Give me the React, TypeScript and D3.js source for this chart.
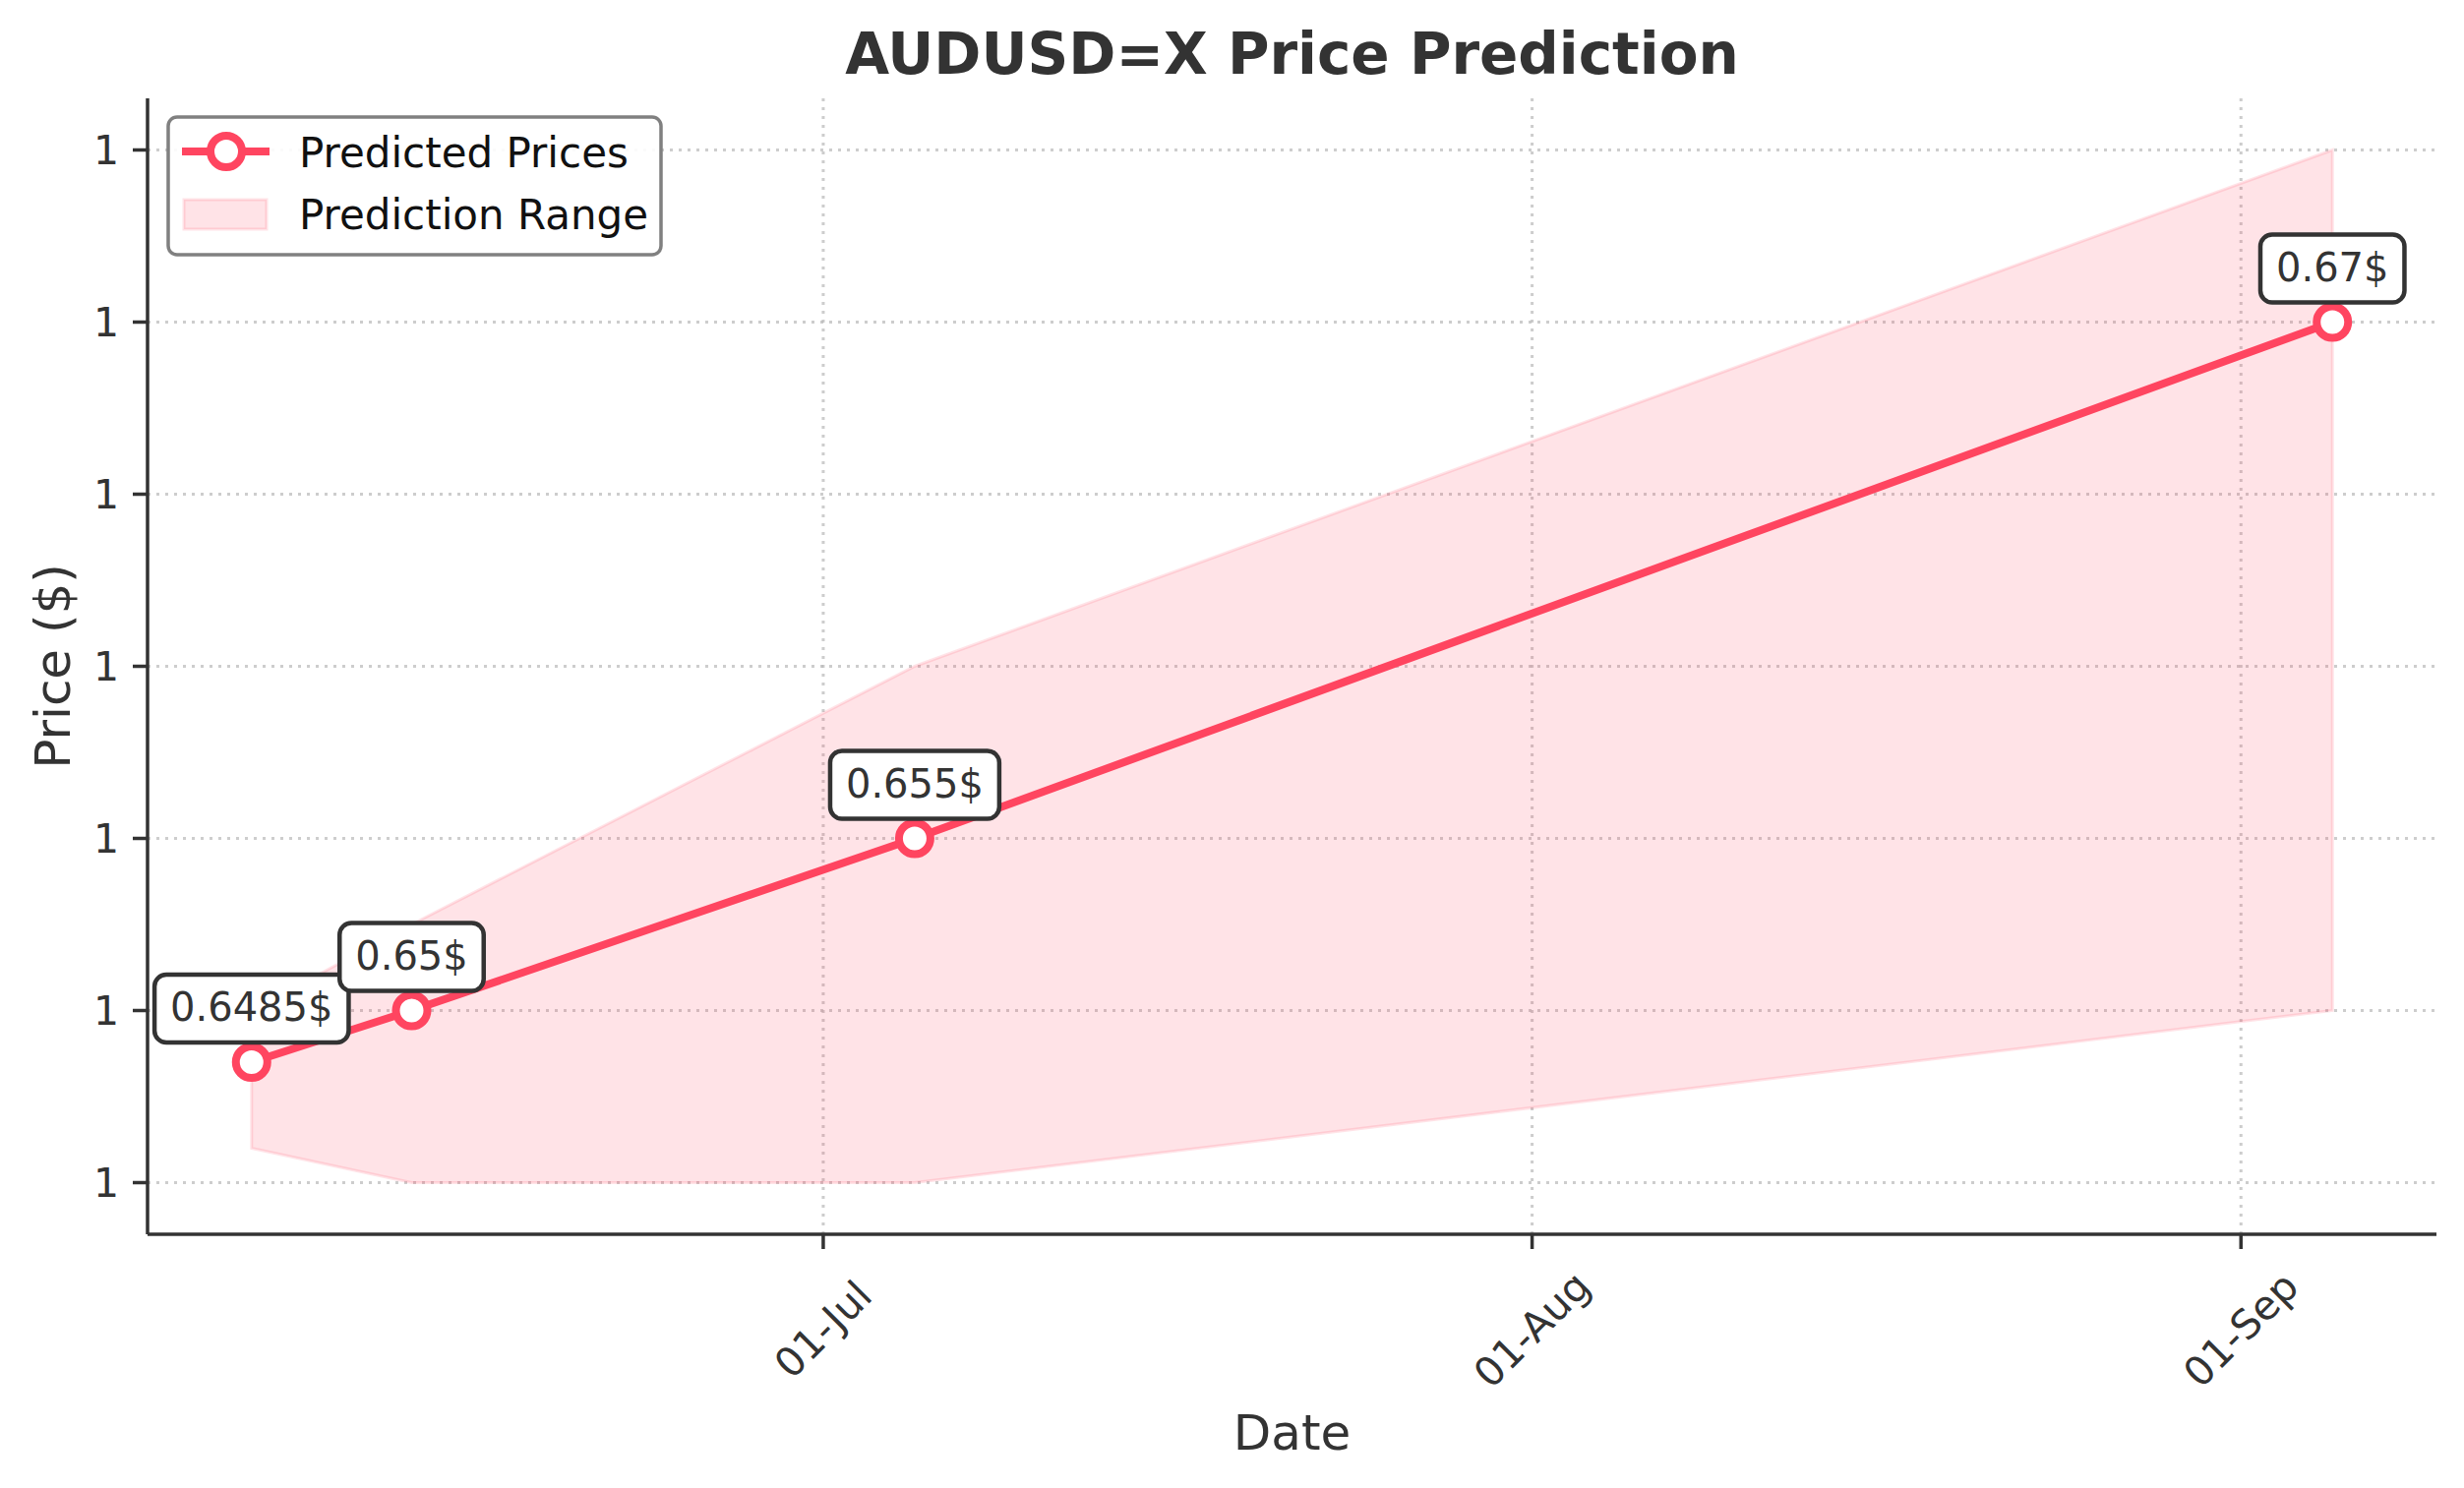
import React from "react";
import * as d3 from "d3";

const dateStrings = ["2024-06-06", "2024-06-13", "2024-07-05", "2024-09-05"];
const predicted = [0.6485, 0.65, 0.655, 0.67];
const lowerBound = [0.646, 0.645, 0.645, 0.65];
const upperBound = [0.65, 0.6525, 0.66, 0.675];
const labels = ["0.6485$", "0.65$", "0.655$", "0.67$"];
const yTicks = [0.645, 0.65, 0.655, 0.66, 0.665, 0.67, 0.675];
const xTickDates = ["2024-07-01", "2024-08-01", "2024-09-01"];

const W = 2505;
const H = 1513;
const M = { left: 150, right: 2477, top: 100, bottom: 1255 };
const RED = "#FF4560";
const FONT = "'DejaVu Sans', Verdana, sans-serif";

const parse = d3.timeParse("%Y-%m-%d");

function textWidth(s: string, fs: number) {
  let w = 0;
  for (const c of s) {
    if (c === ".") w += 0.318;
    else w += 0.636;
  }
  return w * fs;
}

export default function App() {
  const dates = dateStrings.map((d) => parse(d) as Date);
  const [d0, d1] = d3.extent(dates) as [Date, Date];
  const span = d1.getTime() - d0.getTime();
  const x = d3
    .scaleTime()
    .domain([new Date(d0.getTime() - span * 0.05), new Date(d1.getTime() + span * 0.05)])
    .range([M.left, M.right]);
  const yMin = d3.min(lowerBound) as number;
  const yMax = d3.max(upperBound) as number;
  const yPad = (yMax - yMin) * 0.05;
  const y = d3.scaleLinear().domain([yMin - yPad, yMax + yPad]).range([M.bottom, M.top]);

  const rows = dates.map((d, i) => ({ d, p: predicted[i], lo: lowerBound[i], hi: upperBound[i], label: labels[i] }));
  const area = d3
    .area<any>()
    .x((r) => x(r.d))
    .y0((r) => y(r.lo))
    .y1((r) => y(r.hi));
  const line = d3
    .line<any>()
    .x((r) => x(r.d))
    .y((r) => y(r.p));

  const yFmt = d3.format(".0f");
  const xFmt = d3.timeFormat("%d-%b");
  const xTicks = xTickDates.map((s) => parse(s) as Date);

  const gridStyle = { stroke: "#b8b8b8", strokeWidth: 3, strokeDasharray: "3 6", opacity: 0.7 };

  return (
    <svg
      width={W}
      height={H}
      viewBox={`0 0 ${W} ${H}`}
      style={{ position: "absolute", left: 0, top: 0, background: "#fff" }}
      fontFamily={FONT}
    >
      <rect x={0} y={0} width={W} height={H} fill="#fff" />
      {/* grid */}
      {yTicks.map((t) => (
        <line key={"gy" + t} x1={M.left} x2={M.right} y1={y(t)} y2={y(t)} {...gridStyle} />
      ))}
      {xTicks.map((t, i) => (
        <line key={"gx" + i} x1={x(t)} x2={x(t)} y1={M.top} y2={M.bottom} {...gridStyle} />
      ))}
      {/* band */}
      <path d={area(rows) as string} fill={RED} fillOpacity={0.15} stroke={RED} strokeOpacity={0.15} strokeWidth={3} />
      {/* line */}
      <path d={line(rows) as string} fill="none" stroke={RED} strokeWidth={8} strokeLinejoin="round" />
      {rows.map((r, i) => (
        <circle key={"m" + i} cx={x(r.d)} cy={y(r.p)} r={16} fill="#fff" stroke={RED} strokeWidth={8} />
      ))}
      {/* annotations */}
      {rows.map((r, i) => {
        const cx = x(r.d);
        const cy = y(r.p);
        const tw = textWidth(r.label, 40);
        const bw = tw + 32;
        const bh = 69;
        return (
          <g key={"a" + i}>
            <rect x={cx - bw / 2} y={cy - 20 - bh} width={bw} height={bh} rx={12} ry={12} fill="#fff" stroke="#333" strokeWidth={4.5} />
            <text x={cx} y={cy - 42} textAnchor="middle" fontSize={40} fill="#333">
              {r.label}
            </text>
          </g>
        );
      })}
      {/* spines */}
      <line x1={M.left} x2={M.left} y1={M.top} y2={M.bottom} stroke="#333" strokeWidth={3.5} />
      <line x1={M.left} x2={M.right} y1={M.bottom} y2={M.bottom} stroke="#333" strokeWidth={3.5} />
      {/* y ticks */}
      {yTicks.map((t) => (
        <g key={"ty" + t}>
          <line x1={M.left - 15} x2={M.left} y1={y(t)} y2={y(t)} stroke="#333" strokeWidth={3.5} />
          <text x={121} y={y(t)} dy="0.36em" textAnchor="end" fontSize={41} fill="#333">
            {yFmt(t)}
          </text>
        </g>
      ))}
      {/* x ticks */}
      {xTicks.map((t, i) => (
        <g key={"tx" + i}>
          <line x1={x(t)} x2={x(t)} y1={M.bottom} y2={M.bottom + 15} stroke="#333" strokeWidth={3.5} />
          <text
            x={0}
            y={0}
            textAnchor="middle"
            dominantBaseline="central"
            fontSize={41}
            fill="#333"
            transform={`translate(${x(t)},${1352}) rotate(-45)`}
          >
            {xFmt(t)}
          </text>
        </g>
      ))}
      {/* axis labels */}
      <text x={(M.left + M.right) / 2} y={1474} textAnchor="middle" fontSize={50} fill="#333">
        Date
      </text>
      <text transform={`translate(71,${(M.top + M.bottom) / 2}) rotate(-90)`} textAnchor="middle" fontSize={50} fill="#333">
        Price ($)
      </text>
      {/* title */}
      <text x={(M.left + M.right) / 2} y={75} textAnchor="middle" fontSize={58} fontWeight="bold" fill="#333">
        AUDUSD=X Price Prediction
      </text>
      {/* legend */}
      <g>
        <rect x={171} y={119} width={501} height={140} rx={9} ry={9} fill="#fff" fillOpacity={0.9} stroke="#808080" strokeWidth={3.5} />
        <line x1={185} x2={274} y1={154} y2={154} stroke={RED} strokeWidth={8} />
        <circle cx={230} cy={154} r={16} fill="#fff" stroke={RED} strokeWidth={8} />
        <text x={304} y={155} dy="0.36em" fontSize={42} fill="#111">
          Predicted Prices
        </text>
        <rect x={187} y={203} width={84} height={30} fill={RED} fillOpacity={0.15} stroke={RED} strokeOpacity={0.15} strokeWidth={3} />
        <text x={304} y={218} dy="0.36em" fontSize={42} fill="#111">
          Prediction Range
        </text>
      </g>
    </svg>
  );
}
